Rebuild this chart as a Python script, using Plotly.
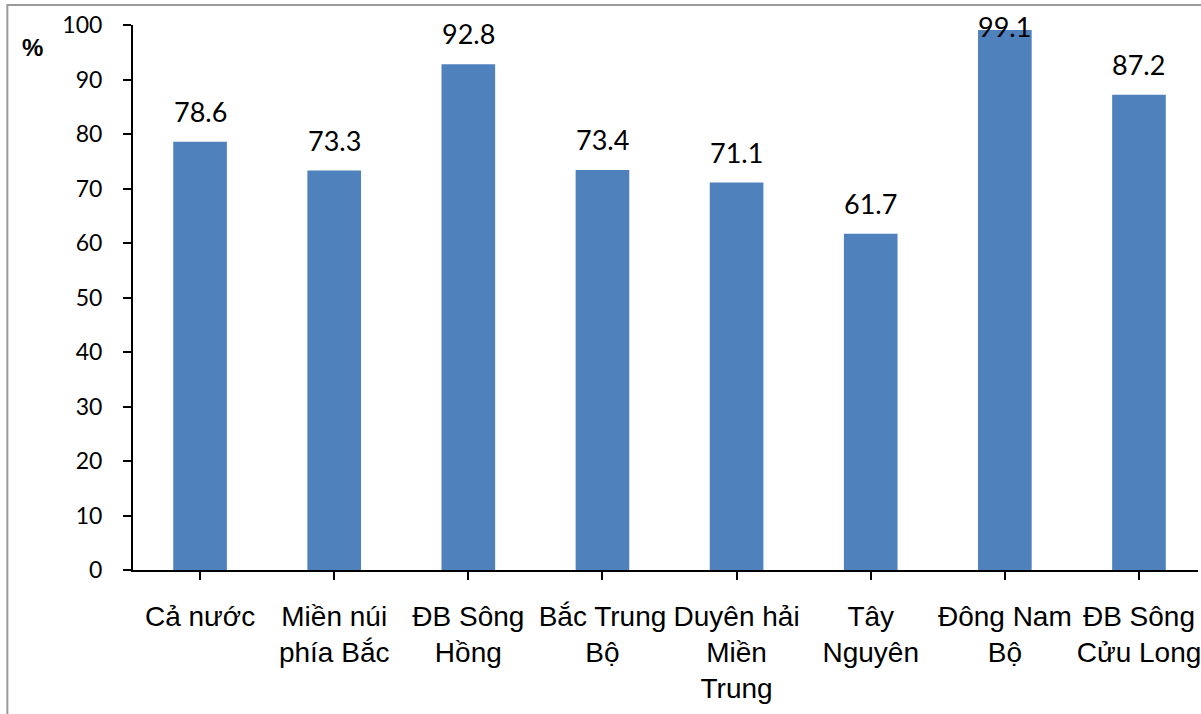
import plotly.graph_objects as go

categories = ["Cả nước", "Miền núi<br>phía Bắc", "ĐB Sông<br>Hồng", "Bắc Trung<br>Bộ",
              "Duyên hải<br>Miền<br>Trung", "Tây<br>Nguyên", "Đông Nam<br>Bộ", "ĐB Sông<br>Cửu Long"]
values = [78.6, 73.3, 92.8, 73.4, 71.1, 61.7, 99.1, 87.2]
y_ticks = [0, 10, 20, 30, 40, 50, 60, 70, 80, 90, 100]

W, H = 1201, 714
ML, MT, MB, MR = 133, 25, 144, 0
PW, PH = W - ML - MR, H - MT - MB

def px_x(p):
    return (p - ML) / PW

def px_y(p):
    return (H - MB - p) / PH

fig = go.Figure()
fig.add_trace(go.Bar(
    x=list(range(len(categories))), y=values,
    marker=dict(color="#4F81BD", line=dict(width=0)),
    width=0.40, hoverinfo="skip",
))

LABEL_CAP = 94.2
for i, v in enumerate(values):
    fig.add_annotation(
        x=i, y=min(v, LABEL_CAP), xref="x", yref="y",
        text=f"{v:.1f}", showarrow=False, yanchor="bottom", yshift=12,
        font=dict(family="Lato", size=27, color="#000000"),
    )

fig.add_annotation(
    x=px_x(32), y=px_y(47), xref="paper", yref="paper",
    text="<b>%</b>", showarrow=False, xanchor="center", yanchor="middle",
    font=dict(family="Liberation Sans", size=24, color="#000000"),
)

fig.add_shape(
    type="rect", xref="paper", yref="paper",
    x0=px_x(7), x1=px_x(1260), y0=px_y(760), y1=px_y(5),
    line=dict(color="#9a9a9a", width=2), fillcolor="rgba(0,0,0,0)", layer="below",
)

fig.update_layout(
    width=W, height=H,
    margin=dict(l=ML, r=MR, t=MT, b=MB, pad=0),
    plot_bgcolor="white", paper_bgcolor="white",
    showlegend=False,
    xaxis=dict(
        tickmode="array", tickvals=list(range(len(categories))), ticktext=categories,
        range=[-0.5, 7.44], showgrid=False, zeroline=False,
        showline=True, linecolor="black", linewidth=2,
        ticks="outside", tickson="boundaries", ticklen=8, tickwidth=2, tickcolor="black",
        tickfont=dict(family="Liberation Sans", size=28, color="#000000"),
        tickangle=0, ticklabelstandoff=12, ticklabeloverflow="allow",
    ),
    yaxis=dict(
        range=[0, 100], tickvals=y_ticks, showgrid=False, zeroline=False,
        showline=True, linecolor="black", linewidth=2,
        ticks="outside", ticklen=8, tickwidth=2, tickcolor="black",
        tickfont=dict(family="Lato", size=23, color="#000000"),
        ticklabelstandoff=16,
    ),
)

fig.write_html("out.html", config={"displayModeBar": False},
               post_script="document.body.style.margin='0';document.body.style.overflow='hidden';")
